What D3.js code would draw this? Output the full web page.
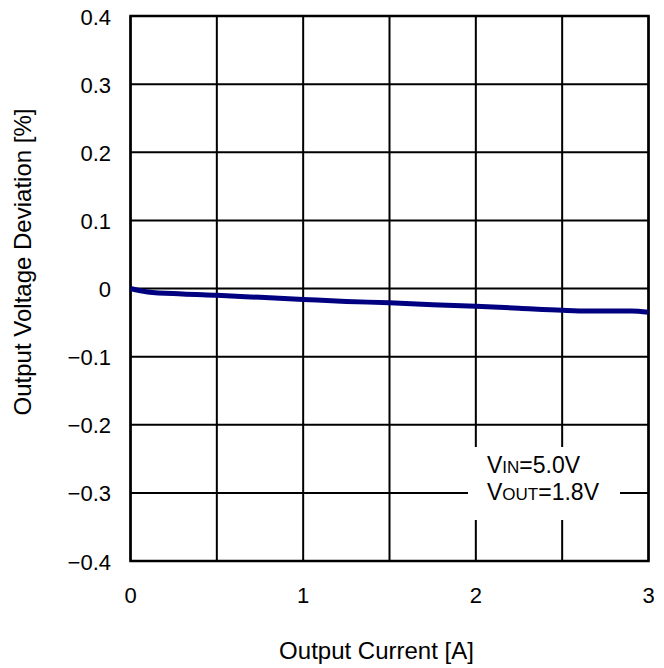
<!DOCTYPE html>
<html><head><meta charset="utf-8">
<script src="https://cdn.jsdelivr.net/npm/d3@7"></script>
<style>body{margin:0;background:#fff}svg{display:block}text{font-family:"Liberation Sans",Arial,sans-serif;fill:#000}</style>
</head><body><svg id="c" width="664" height="668"></svg>
<script>
const xTicks = [0, 0.5, 1, 1.5, 2, 2.5, 3];
const xTickLabels = ["0", "", "1", "", "2", "", "3"];
const yTicks = [0.4, 0.3, 0.2, 0.1, 0, -0.1, -0.2, -0.3, -0.4];
const yTickLabels = ["0.4", "0.3", "0.2", "0.1", "0", "\u22120.1", "\u22120.2", "\u22120.3", "\u22120.4"];
const current = [0, 0.05, 0.1, 0.3, 0.5, 0.75, 1, 1.25, 1.5, 1.75, 2, 2.25, 2.5, 2.65, 2.8, 2.9, 3];
const deviation = [0, -0.003, -0.005, -0.008, -0.01, -0.013, -0.016, -0.019, -0.021, -0.024, -0.026, -0.029, -0.032, -0.033, -0.033, -0.033, -0.035];

const svg = d3.select("#c");
const L = 130.5, R = 648.5, T = 16, B = 561;
const x = d3.scaleLinear().domain([0, 3]).range([L, R]);
const y = d3.scaleLinear().domain([-0.4, 0.4]).range([B, T]);

const g = svg.append("g");
// grid
g.selectAll(".vx").data(xTicks).enter().append("line")
  .attr("x1", d => x(d)).attr("x2", d => x(d)).attr("y1", T).attr("y2", B)
  .attr("stroke", "#000").attr("stroke-width", 2);
g.selectAll(".hy").data(yTicks).enter().append("line")
  .attr("y1", d => y(d)).attr("y2", d => y(d)).attr("x1", L).attr("x2", R)
  .attr("stroke", "#000").attr("stroke-width", 2);
// annotation box background
g.append("rect").attr("x", 468).attr("y", 447).attr("width", 152).attr("height", 73).attr("fill", "#fff");
// border
g.append("rect").attr("x", L).attr("y", T).attr("width", R - L).attr("height", B - T)
  .attr("fill", "none").attr("stroke", "#000").attr("stroke-width", 2.5);

// line
const line = d3.line().x((d, i) => x(current[i])).y(d => y(d)).curve(d3.curveMonotoneX);
g.append("path").datum(deviation).attr("d", line).attr("fill", "none")
  .attr("stroke", "#000080").attr("stroke-width", 5);

// tick labels
g.selectAll(".xl").data(xTicks).enter().append("text")
  .attr("x", d => x(d)).attr("y", 603).attr("text-anchor", "middle")
  .attr("font-size", 22).text((d, i) => xTickLabels[i]);
g.selectAll(".yl").data(yTicks).enter().append("text")
  .attr("x", 111).attr("y", d => y(d) + 8.5).attr("text-anchor", "end")
  .attr("font-size", 22).text((d, i) => yTickLabels[i]);

// axis titles
svg.append("text").attr("x", 376.5).attr("y", 659).attr("text-anchor", "middle")
  .attr("font-size", 24).text("Output Current [A]");
svg.append("text").attr("transform", `translate(31,262) rotate(-90)`)
  .attr("text-anchor", "middle").attr("font-size", 24).text("Output Voltage Deviation [%]");

// annotation
const t1 = svg.append("text").attr("x", 487).attr("y", 473).attr("font-size", 23);
t1.append("tspan").text("V");
t1.append("tspan").attr("font-size", 17).text("IN");
t1.append("tspan").text("=5.0V");
const t2 = svg.append("text").attr("x", 487).attr("y", 500).attr("font-size", 23);
t2.append("tspan").text("V");
t2.append("tspan").attr("font-size", 17).text("OUT");
t2.append("tspan").text("=1.8V");
</script></body></html>
